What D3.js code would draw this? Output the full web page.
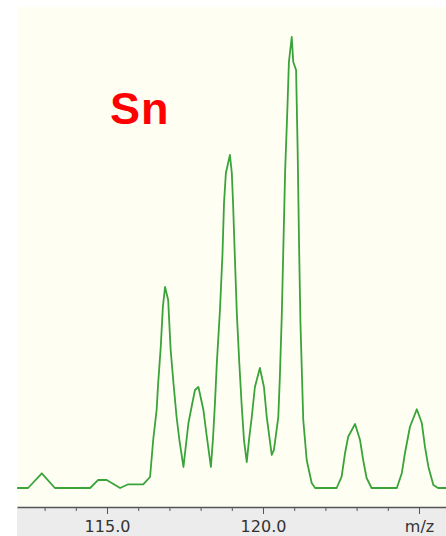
<!DOCTYPE html>
<html><head><meta charset="utf-8">
<script src="https://cdn.jsdelivr.net/npm/d3@7"></script>
<style>html,body{margin:0;padding:0;background:#fff;overflow:hidden}</style>
</head><body>
<svg id="c" width="446" height="536"></svg>
<script>
const mz = [112.12,112.47,112.91,113.33,114.46,114.71,114.99,115.42,115.68,116.16,
116.38,116.48,116.59,116.64,116.72,116.79,116.86,116.96,117.04,117.13,
117.23,117.32,117.45,117.61,117.71,117.82,117.93,118.09,118.20,118.33,
118.40,118.46,118.52,118.62,118.70,118.75,118.81,118.94,119.00,119.04,
119.09,119.16,119.24,119.32,119.39,119.48,119.55,119.64,119.74,119.90,
120.03,120.12,120.28,120.35,120.49,120.54,120.60,120.65,120.71,120.78,
120.83,120.92,120.97,121.06,121.11,121.16,121.20,121.29,121.40,121.56,
121.67,122.36,122.52,122.63,122.73,122.95,123.11,123.21,123.32,123.48,
124.29,124.45,124.55,124.71,124.93,125.09,125.19,125.30,125.46,125.61,125.87];
const intensity = [0,0,3.26,0,0,1.77,1.77,0,0.82,0.82,
2.44,10.64,17.29,23.28,31.04,40.13,44.57,41.69,30.60,23.28,
15.74,10.64,4.66,14.41,17.96,21.73,22.39,17.29,11.31,4.66,
11.31,18.85,27.72,39.47,51.66,63.19,69.84,73.84,69.84,63.19,
52.77,38.80,27.72,17.96,10.64,5.76,10.64,15.74,22.39,26.61,
22.39,15.74,7.32,8.43,15.74,24.61,37.92,52.77,70.51,83.81,
94.46,100,94.46,92.68,74.94,52.11,36.59,15.08,6.21,1.11,
0,0,2.51,7.76,11.37,14.19,10.64,6.21,2.22,0,
0,3.33,7.76,13.59,17.45,14.41,9.16,4.72,0.67,0,0];
const tickValues = [113,114,115,116,117,118,119,120,121,122,123,124,125];
const tickLabels = {115:"115.0",120:"120.0",125:"m/z"};
const xDomain = [112.115, 125.865];
const yDomain = [0, 100];
const title = "Sn";

const svg = d3.select("#c");
const L=17, R=446, T=7, B=507;
const x = d3.scaleLinear().domain(xDomain).range([L,R]);
const y = d3.scaleLinear().domain(yDomain).range([488,37]);

svg.append("rect").attr("x",L).attr("y",T).attr("width",R-L).attr("height",B-T).attr("fill","#fefef3");
svg.append("rect").attr("x",L).attr("y",B).attr("width",R-L).attr("height",536-B).attr("fill","#ececec");

const data = mz.map((d,i)=>({x:d,y:intensity[i]}));
svg.append("path").datum(data)
  .attr("fill","none").attr("stroke","#3aa33a").attr("stroke-width",1.8)
  .attr("stroke-linejoin","round")
  .attr("d", d3.line().x(d=>x(d.x)).y(d=>y(d.y)));

const ax = svg.append("g").attr("transform",`translate(0,${B})`)
  .call(d3.axisBottom(x).tickValues(tickValues)
    .tickSize(4).tickSizeOuter(0).tickFormat(d=>tickLabels[d]||""));
ax.select(".domain").attr("stroke","#555").attr("stroke-width",1.5);
ax.selectAll(".tick line").attr("stroke","#555")
  .attr("y2",d=>tickLabels[d]?7:4);
ax.selectAll(".tick text").attr("fill","#333").attr("font-family","DejaVu Sans, Verdana, sans-serif")
  .attr("font-size","16px").attr("dy",null).attr("y",25);

svg.append("text").attr("x",110).attr("y",124).text(title)
  .attr("fill","#ff0000").attr("font-weight","bold").attr("letter-spacing","1px")
  .attr("font-family","Liberation Sans, Arial, sans-serif").attr("font-size","45px");
</script>
</body></html>
